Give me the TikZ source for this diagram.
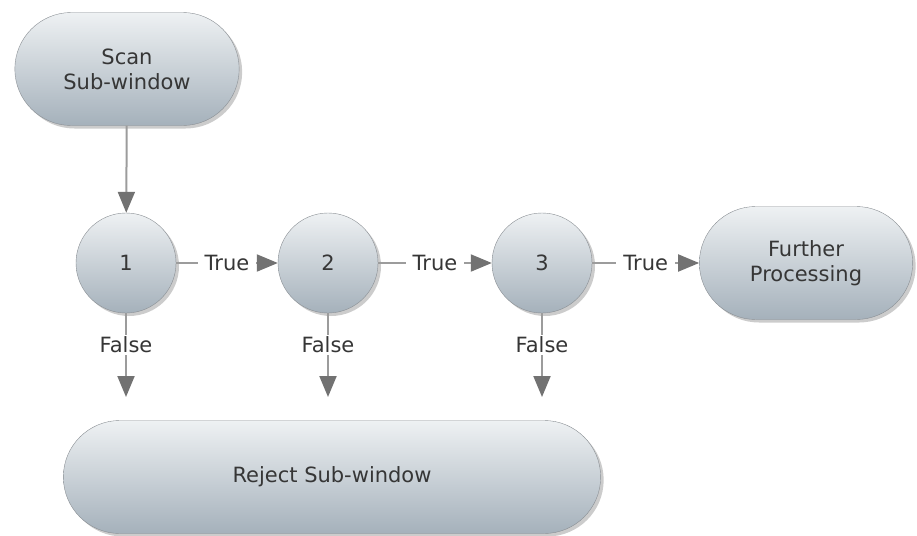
\documentclass[tikz,border=0pt]{standalone}
\usepackage{fontspec}
\setmainfont{DejaVu Sans}
\usetikzlibrary{shapes.misc,shadows,arrows.meta}

\definecolor{boxtop}{HTML}{EEF1F3}
\definecolor{boxbottom}{HTML}{A5B1BB}
\definecolor{boxline}{HTML}{8A8F94}
\definecolor{flowline}{HTML}{9C9C9C}
\definecolor{flowhead}{HTML}{727272}
\definecolor{labeltext}{HTML}{363636}

\tikzset{
    box/.style={rounded rectangle, draw=boxline, top color=boxtop, bottom color=boxbottom,
        text=labeltext, align=center, minimum height=113pt,
        drop shadow={shadow xshift=3pt, shadow yshift=-3pt, opacity=0.4}},
    stage/.style={circle, draw=boxline, top color=boxtop, bottom color=boxbottom,
        text=labeltext, minimum size=100pt,
        drop shadow={shadow xshift=3pt, shadow yshift=-3pt, opacity=0.4}},
    flow/.style={draw=flowline, line width=2pt, -{Triangle[length=21pt, width=17pt, color=flowhead]}},
    lbl/.style={fill=white, text=labeltext, inner xsep=7pt, inner ysep=2pt},
}

\begin{document}
\begin{tikzpicture}[x=1pt, y=-1pt, font=\fontsize{21}{25}\selectfont]
    \useasboundingbox (0,0) rectangle (917,535);

    \node (scan) [box, minimum width=231pt] at (127,69) {Scan\\Sub-window};
    \node (c1) [stage] at (126,263) {1};
    \node (c2) [stage] at (328,263) {2};
    \node (c3) [stage] at (542,263) {3};
    \node (further) [box, minimum width=220pt] at (806,263) {Further\\Processing};
    \node (reject) [box, minimum width=544pt] at (332,477) {Reject Sub-window};

    % open ends of the false branches
    \coordinate (f1) at (126,397);
    \coordinate (f2) at (328,397);
    \coordinate (f3) at (542,397);

    \draw[flow] (scan) -- (c1);
    \draw[flow] (c1) -- node[lbl] {True} (c2);
    \draw[flow] (c2) -- node[lbl] {True} (c3);
    \draw[flow] (c3) -- node[lbl] {True} (further);
    \draw[flow] (c1) -- node[lbl, pos=0.38] {False} (f1);
    \draw[flow] (c2) -- node[lbl, pos=0.38] {False} (f2);
    \draw[flow] (c3) -- node[lbl, pos=0.38] {False} (f3);
\end{tikzpicture}
\end{document}
